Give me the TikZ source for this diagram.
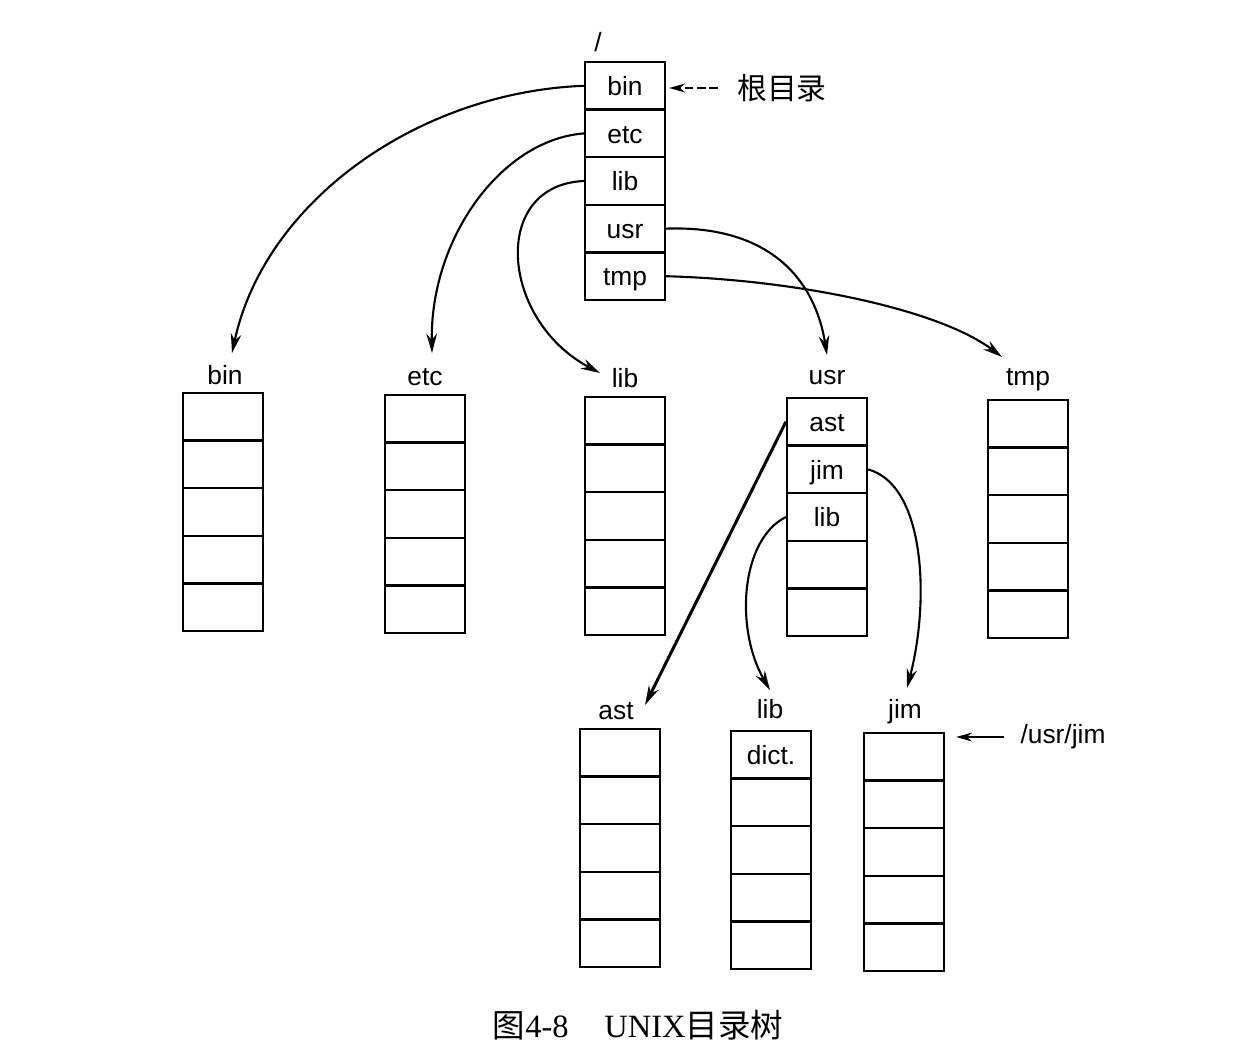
\documentclass[tikz,border=0pt]{standalone}
\usepackage{fontspec}
\setmainfont{Liberation Serif}
\setsansfont{Liberation Sans}
\newfontfamily\cjk{Noto Sans CJK SC}
\usetikzlibrary{arrows.meta}
\tikzset{cell/.style={draw, line width=1.3pt, minimum width=1.6cm, minimum height=0.952cm, inner sep=0pt,
    text height=12.5pt, text depth=1.5pt, font=\sffamily\fontsize{15}{18}\selectfont},
  dirlabel/.style={font=\sffamily\fontsize{15}{18}\selectfont},
  link/.style={line width=1.2pt, -{Stealth[length=11pt,width=6pt]}}}
% one directory: name, centre x, top y, entries
\newcommand{\dirblock}[4]{%
  \foreach \t [count=\i] in {#4} \node[cell] (#1-\i) at (#2, #3+23.8+47.6*\i-47.6) {\t};}

\begin{document}
\begin{tikzpicture}[x=0.02cm, y=-0.02cm]
  \useasboundingbox (0,0) rectangle (1256,1062);
  % root
  \node[dirlabel] (lroot) at (598,42) {/};
  \dirblock{root}{625}{62}{bin,etc,lib,usr,tmp}
  \node[font=\cjk\fontsize{17}{20}\selectfont] (rootnote) at (782,88) {根目录};
  \draw[line width=1pt, dash pattern=on 5pt off 2pt, -{Stealth[length=9pt,width=5pt]}, shorten <=0.26cm, shorten >=0.06cm] (rootnote.west) -- (rootnote.west -| root-1.east);
  % second level
  \node[dirlabel] (lbin) at (225,375) {bin};
  \dirblock{bin}{223}{393}{{},{},{},{},{}}
  \node[dirlabel] (letc) at (425,377) {etc};
  \dirblock{etc}{425}{395}{{},{},{},{},{}}
  \node[dirlabel] (llib) at (625,378) {lib};
  \dirblock{lib}{625}{397}{{},{},{},{},{}}
  \node[dirlabel] (lusr) at (827,378) {usr};
  \dirblock{usr}{827}{398}{ast,jim,lib,{},{}}
  \node[dirlabel] (ltmp) at (1028,380) {tmp};
  \dirblock{tmp}{1028}{400}{{},{},{},{},{}}
  % third level
  \node[dirlabel] (last) at (616,711) {ast};
  \dirblock{ast}{620}{729}{{},{},{},{},{}}
  \node[dirlabel] (lulib) at (770,709) {lib};
  \dirblock{ulib}{771}{731}{dict.,{},{},{},{}}
  \node[dirlabel] (ljim) at (905,712) {jim};
  \dirblock{jim}{904}{733}{{},{},{},{},{}}
  \node[dirlabel] (jimpath) at (1063,737) {/usr/jim};
  \draw[line width=1pt, -{Stealth[length=9pt,width=5pt]}, shorten <=0.2cm, shorten >=0.22cm] (jimpath.west) -- (jimpath.west -| jim-1.east);
  % arrow ends
  \coordinate (bin-in) at (232,353);
  \coordinate (etc-in) at (432,353);
  \coordinate (lib-in) at (600,373);
  \coordinate (usr-in) at (827,355);
  \coordinate (tmp-in) at (1002,357);
  \coordinate (ast-in) at (645,705);
  \coordinate (ulib-in) at (770,690);
  \coordinate (jim-in) at (907,688);
  % links
  \draw[link] (root-1.west) .. controls (420,92) and (265,200) .. (bin-in);
  \draw[link] (root-2.west) .. controls (500,140) and (430,240) .. (etc-in);
  \draw[link] (root-3.west) .. controls (490,185) and (500,320) .. (lib-in);
  \draw[link] (root-4.east) .. controls (770,225) and (815,280) .. (usr-in);
  \draw[link] (root-5.east) .. controls (800,280) and (940,310) .. (tmp-in);
  \draw[link, line width=1.7pt] (usr-1.west) -- (ast-in);
  \draw[link] (usr-3.west) .. controls (740,540) and (735,630) .. (ulib-in);
  \draw[link] (usr-2.east) .. controls (925,485) and (930,600) .. (jim-in);
  % caption
  \node[font=\fontsize{18.5}{22}\selectfont] (caption) at (638,1025) {{\cjk 图}4-8\hspace{1.1em}UNIX{\cjk 目录树}};
\end{tikzpicture}
\end{document}
